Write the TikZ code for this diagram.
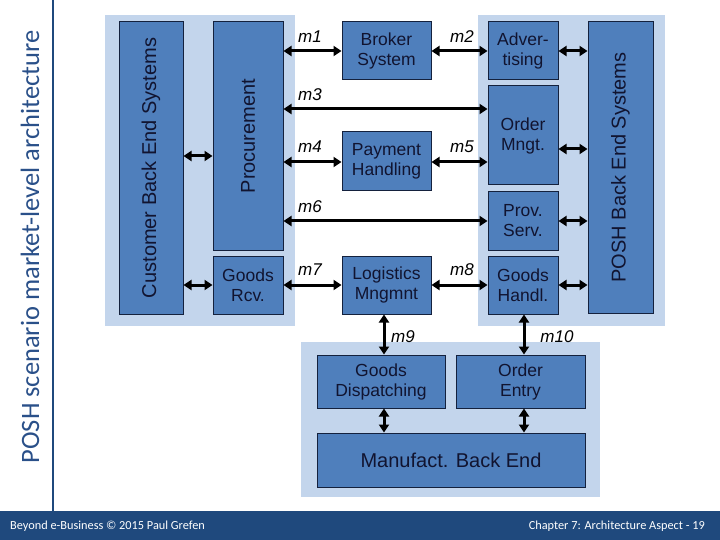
\documentclass[tikz,border=0pt]{standalone}
\usepackage{fontspec}
\setmainfont{Liberation Sans}
\newfontfamily\calib{Carlito}
\usetikzlibrary{arrows.meta}
\definecolor{panelc}{HTML}{C3D5EC}
\definecolor{boxc}{HTML}{4F7FBC}
\definecolor{edgec}{HTML}{14213D}
\definecolor{txtc}{HTML}{111430}
\definecolor{barc}{HTML}{1F497D}
\definecolor{titlec}{HTML}{2A5089}
\tikzset{
  panel/.style={fill=panelc, draw=none},
  blk/.style={draw=edgec, line width=1pt, fill=boxc, inner sep=0pt, text=txtc,
    align=center, font=\fontsize{17.5}{20}\selectfont},
  biglbl/.style={text=txtc, font=\fontsize{20}{22}\selectfont, inner sep=0pt},
  link/.style={line width=3pt, {Triangle[length=8pt,width=10pt]}-{Triangle[length=8pt,width=10pt]}},
  mlbl/.style={font=\fontsize{17}{19}\selectfont\itshape, inner sep=0pt},
  foot/.style={text=white, font=\calib\fontsize{12.3}{14}\selectfont, inner sep=0pt},
}
\begin{document}
\begin{tikzpicture}[x=1pt,y=-1pt]
\useasboundingbox (0,0) rectangle (720,540);
% panels
\fill[panel] (105,15) rectangle (295,326);
\fill[panel] (478,15) rectangle (665,326);
\fill[panel] (301,342) rectangle (600,497);
% boxes
\node[blk, minimum width=64pt, minimum height=292pt] (cust) at (151,168) {};
\node[biglbl, rotate=90] (custl) at (cust) {Customer Back End Systems};
\node[blk, minimum width=70pt, minimum height=228pt] (proc) at (248,136) {};
\node[biglbl, rotate=90] (procl) at (proc) {Procurement};
\node[blk, minimum width=70pt, minimum height=58pt] (grcv) at (248,285) {Goods\\Rcv.};
\node[blk, minimum width=89pt, minimum height=58pt] (broker) at (386.5,51) {Broker\\System};
\node[blk, minimum width=89pt, minimum height=59pt] (pay) at (386.5,161.5) {Payment\\Handling};
\node[blk, minimum width=89pt, minimum height=58pt] (logi) at (386.5,285) {Logistics\\Mngmnt};
\node[blk, minimum width=70pt, minimum height=58pt] (adv) at (523,51) {Adver-\\tising};
\node[blk, minimum width=70pt, minimum height=99pt] (order) at (523,135.5) {Order\\Mngt.};
\node[blk, minimum width=70pt, minimum height=58pt] (prov) at (523,221) {Prov.\\Serv.};
\node[blk, minimum width=70pt, minimum height=58pt] (ghandl) at (523,285) {Goods\\Handl.};
\node[blk, minimum width=65pt, minimum height=291pt] (posh) at (620.5,167.5) {};
\node[biglbl, rotate=90] (poshl) at (posh) {POSH Back End Systems};
\node[blk, minimum width=128pt, minimum height=53pt] (gdisp) at (381,381.5) {Goods\\Dispatching};
\node[blk, minimum width=129pt, minimum height=53pt] (oentry) at (520.5,381.5) {Order\\Entry};
\node[blk, minimum width=268pt, minimum height=54pt, font=\fontsize{20}{22}\selectfont] (manuf) at (451,460) {Manufact. Back End};
% helper coordinates
\coordinate (y3) at (0,109);
\coordinate (y4) at (0,162);
\coordinate (y6) at (0,221);
\coordinate (cy1) at (0,156);
\coordinate (oy) at (0,149);
\coordinate (x9) at (384,0);
\coordinate (x10) at (524,0);
% connectors
\draw[link] (cust.east |- cy1) -- (proc.west |- cy1);
\draw[link] (cust.east |- grcv.west) -- (grcv.west);
\draw[link] (proc.east |- broker.west) -- (broker.west);
\draw[link] (broker.east) -- (adv.west);
\draw[link] (proc.east |- y3) -- (order.west |- y3);
\draw[link] (proc.east |- y4) -- (pay.west |- y4);
\draw[link] (pay.east |- y4) -- (order.west |- y4);
\draw[link] (proc.east |- y6) -- (prov.west |- y6);
\draw[link] (grcv.east) -- (logi.west);
\draw[link] (logi.east) -- (ghandl.west);
\draw[link] (adv.east) -- (posh.west |- adv.east);
\draw[link] (order.east |- oy) -- (posh.west |- oy);
\draw[link] (prov.east) -- (posh.west |- prov.east);
\draw[link] (ghandl.east) -- (posh.west |- ghandl.east);
\draw[link] (logi.south -| x9) -- (gdisp.north -| x9);
\draw[link] (ghandl.south -| x10) -- (oentry.north -| x10);
\draw[link] (gdisp.south -| x9) -- (manuf.north -| x9);
\draw[link] (oentry.south -| x10) -- (manuf.north -| x10);
% message labels
\node[mlbl] (m1) at (310,37) {m1};
\node[mlbl] (m2) at (462,37) {m2};
\node[mlbl] (m3) at (310,95) {m3};
\node[mlbl] (m4) at (310,147) {m4};
\node[mlbl] (m5) at (462,147) {m5};
\node[mlbl] (m6) at (310,207) {m6};
\node[mlbl] (m7) at (310,270) {m7};
\node[mlbl] (m8) at (462,270) {m8};
\node[mlbl] (m9) at (403,337) {m9};
\node[mlbl] (m10) at (557,337) {m10};
% slide frame
\draw[barc, line width=2pt] (53,0) coordinate (vtop) -- (53,511) coordinate (vbot);
\fill[barc] (0,511) rectangle (720,540);
\node[rotate=90, text=titlec, font=\calib\fontsize{26.5}{28}\selectfont, inner sep=0pt] (title) at (30,247) {POSH scenario market-level architecture};
\node[foot, anchor=west] (foot1) at (10,526) {Beyond e-Business © 2015 Paul Grefen};
\node[foot, anchor=east] (foot2) at (705,526) {Chapter 7: Architecture Aspect - 19};
\end{tikzpicture}
\end{document}
